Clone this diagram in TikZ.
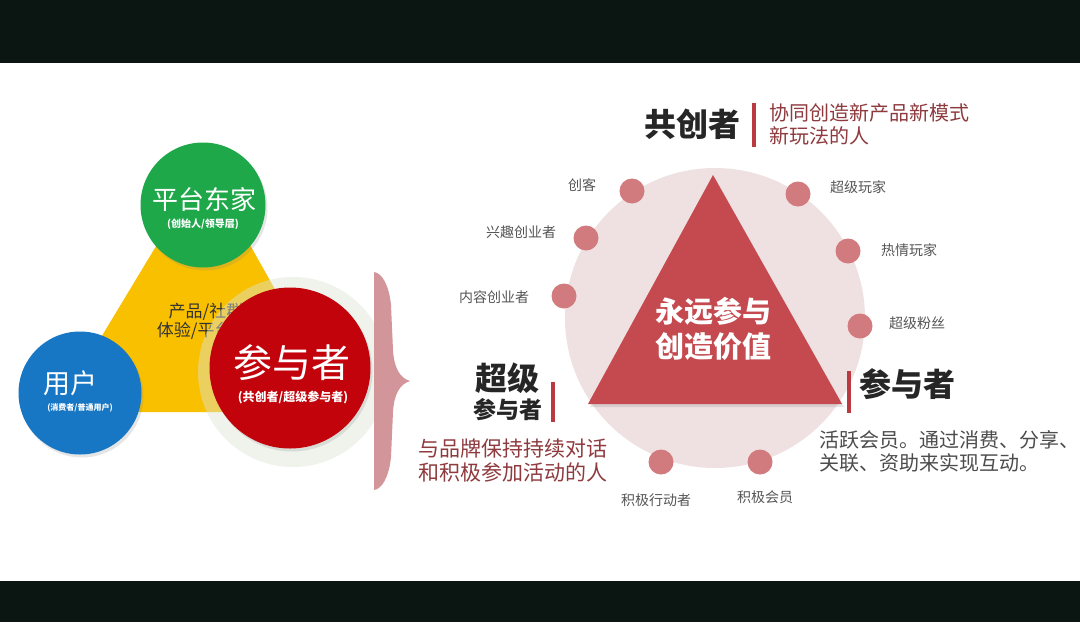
\documentclass[tikz,border=0pt]{standalone}
\usepackage{fontspec}
\setmainfont{Noto Sans CJK SC}
\usetikzlibrary{shadows}
\definecolor{barcol}{HTML}{0B1613}
\definecolor{gcol}{HTML}{1FA84A}
\definecolor{bcol}{HTML}{1877C4}
\definecolor{rcol}{HTML}{C2030B}
\definecolor{ycol}{HTML}{F9C000}
\definecolor{glowcol}{HTML}{DCE5D6}
\definecolor{bracecol}{HTML}{D1959A}
\definecolor{bigcirc}{HTML}{EFE1E1}
\definecolor{tricol}{HTML}{C44A4F}
\definecolor{dotcol}{HTML}{D27B7F}
\definecolor{accent}{HTML}{B93A40}
\definecolor{darkred}{HTML}{8E3A3E}
\definecolor{labgray}{HTML}{555555}
\tikzset{
  bigdisc/.style={circle, inner sep=0pt, draw=none, drop shadow={shadow xshift=2pt, shadow yshift=-3pt, opacity=0.2}},
  dot/.style={circle, fill=dotcol, minimum size=25pt, inner sep=0pt},
  dotlab/.style={text=labgray, font=\fontsize{14}{16}\selectfont, inner sep=0pt},
  headbold/.style={font=\fontsize{32}{36}\selectfont\bfseries, text=black!85, inner sep=0pt},
  redbar/.style={draw=accent, line width=4pt},
  desc/.style={font=\fontsize{20}{23}\selectfont, inner sep=0pt, anchor=west, align=left},
}
\begin{document}
\begin{tikzpicture}[x=1pt,y=-1pt]
\useasboundingbox (0,0) rectangle (1080,622);
% background
\fill[white] (0,0) rectangle (1080,622);
\fill[barcol] (0,0) rectangle (1080,63);
\fill[barcol] (0,581) rectangle (1080,622);

% ---------- left diagram ----------
\fill[ycol] (205,165) -- (56,412) -- (344,412) -- cycle;
\node[text=black!80, font=\fontsize{17}{19}\selectfont, align=center, inner sep=0pt] (mid) at (206,321) {产品/社群\\体验/平台/一};
\fill[glowcol, opacity=0.45] (293,372) circle (95);
\node[bigdisc, fill=gcol, minimum size=125pt] (green) at (203,205) {};
\node[bigdisc, fill=bcol, minimum size=123pt] (blue) at (80,393) {};
\node[bigdisc, fill=rcol, minimum size=161pt] (red) at (290,368) {};
\node[text=white, font=\fontsize{26}{30}\selectfont, inner sep=0pt] (gt) at (204,200) {平台东家};
\node[text=white, font=\fontsize{10}{12}\selectfont\bfseries, inner sep=0pt] (gs) at (203,224) {(创始人/领导层)};
\node[text=white, font=\fontsize{27}{30}\selectfont, inner sep=0pt] (bt) at (70,383) {用户};
\node[text=white, font=\fontsize{8}{10}\selectfont\bfseries, inner sep=0pt] (bs) at (80,408) {(消费者/普通用户)};
\node[text=white, font=\fontsize{39}{42}\selectfont, inner sep=0pt] (rt) at (292,363) {参与者};
\node[text=white, font=\fontsize{12}{14}\selectfont\bfseries, inner sep=0pt] (rs) at (293,397) {(共创者/超级参与者)};

% brace
\fill[bracecol] (374,272) .. controls (382,273) and (389,285) .. (391,305)
  -- (393,350) .. controls (394,368) and (400,378) .. (410,381)
  .. controls (400,384) and (394,394) .. (393,412)
  -- (391,457) .. controls (389,477) and (382,489) .. (374,490) -- cycle;

% ---------- right diagram ----------
\fill[bigcirc] (715,318) circle (150);
\fill[tricol, drop shadow={shadow xshift=2pt, shadow yshift=-3pt, opacity=0.2}] (713,175) -- (588,404) -- (842,404) -- cycle;
\node[text=white, font=\fontsize{29}{35}\selectfont\bfseries, align=center, inner sep=0pt] (core) at (713,329) {永远参与\\创造价值};

\node[dot] (d1) at (632,191) {};
\node[dot] (d2) at (586,238) {};
\node[dot] (d3) at (564,296) {};
\node[dot] (d4) at (798,194) {};
\node[dot] (d5) at (848,251) {};
\node[dot] (d6) at (860,326) {};
\node[dot] (d7) at (661,462) {};
\node[dot] (d8) at (760,462) {};

\node[dotlab] (l1) at (582,185) {创客};
\node[dotlab] (l2) at (521,232) {兴趣创业者};
\node[dotlab] (l3) at (494,297) {内容创业者};
\node[dotlab] (l4) at (858,187) {超级玩家};
\node[dotlab] (l5) at (909,250) {热情玩家};
\node[dotlab] (l6) at (917,323) {超级粉丝};
\node[dotlab] (l7) at (656,500) {积极行动者};
\node[dotlab] (l8) at (765,497) {积极会员};

% top heading
\node[headbold] (h1) at (692,124) {共创者};
\draw[redbar] (754,103) -- (754,147);
\node[desc, text=darkred] (h1d) at (769,124) {协同创造新产品新模式\\新玩法的人};

% left heading
\node[headbold] (h2a) at (507,378) {超级};
\node[font=\fontsize{23}{26}\selectfont\bfseries, text=black!85, inner sep=0pt] (h2b) at (508,410) {参与者};
\draw[redbar] (553,382) -- (553,422);
\node[desc, text=darkred, font=\fontsize{21}{24}\selectfont] (h2d) at (418,461) {与品牌保持持续对话\\和积极参加活动的人};

% right heading
\draw[redbar] (849,371) -- (849,413);
\node[headbold, anchor=west] (h3) at (859,384) {参与者};
\node[desc, text=black!70] (h3d) at (819,451) {活跃会员。通过消费、分享、\\关联、资助来实现互动。};
\end{tikzpicture}
\end{document}
